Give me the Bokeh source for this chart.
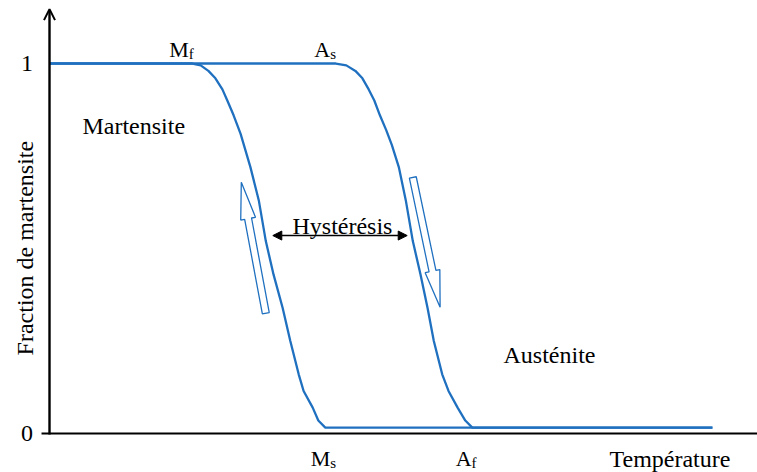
import math
from bokeh.plotting import figure
from bokeh.models import Range1d, Arrow, OpenHead, NormalHead
from bokeh.core.properties import value
from bokeh.embed import file_html
from bokeh.resources import INLINE

# ---------------- data ----------------
# cooling branch: austenite -> martensite (left curve)
T_cool = [0.0, 20.4, 21.6, 22.7, 23.7, 24.7, 25.4, 26.3, 27.3, 28.7, 29.9,
          30.9, 32.0, 33.3, 34.4, 35.6, 36.3, 37.6, 38.4, 39.4, 94.7]
f_cool = [1.0, 1.0, 0.995, 0.98, 0.96, 0.93, 0.90, 0.86, 0.81, 0.72, 0.63,
          0.52, 0.43, 0.34, 0.25, 0.16, 0.115, 0.07, 0.035, 0.016, 0.016]
# heating branch: martensite -> austenite (right curve)
T_heat = [0.0, 40.9, 42.4, 43.7, 44.7, 45.6, 46.4, 47.2, 48.1, 48.9, 49.9,
          50.9, 51.9, 53.0, 54.0, 54.9, 56.1, 57.0, 58.3, 59.4, 60.4, 94.7]
f_heat = [1.0, 1.0, 0.995, 0.98, 0.96, 0.93, 0.90, 0.86, 0.82, 0.78, 0.72,
          0.63, 0.52, 0.43, 0.34, 0.25, 0.16, 0.115, 0.07, 0.035, 0.016, 0.016]

# y ticks
tick_f = [1.0, 0.0]
tick_text = ["1", "0"]

# transformation temperature labels (main letter + subscript)
trans_main = ["M", "A", "M", "A"]
trans_sub = ["f", "s", "s", "f"]
trans_T = [19.9, 40.1, 40.1, 60.3]
trans_f = [1.038, 1.038, -0.068, -0.068]

# hollow direction arrows (tail T, tail f, tip T, tip f)
dir_tail_T = [30.9, 51.9]
dir_tail_f = [0.325, 0.692]
dir_tip_T = [27.4, 55.8]
dir_tip_f = [0.679, 0.341]

# hysteresis width arrow
hyst_T = [31.9, 51.1]
hyst_f = 0.535

# ---------------- figure ----------------
W, H = 757, 472
X0, X1 = -7.0, 101.14
Y0, Y1 = -0.1054, 1.1703
BLUE = "#2070c0"
FONT = value("Liberation Serif")

p = figure(width=W, height=H, x_range=Range1d(X0, X1), y_range=Range1d(Y0, Y1),
           output_backend="svg", toolbar_location=None, min_border=0,
           x_axis_location=None, y_axis_location=None)
p.grid.visible = False
p.outline_line_color = None
p.background_fill_color = "white"
p.border_fill_color = "white"

# axes
p.segment(x0=[-1.14], y0=[0.0], x1=[X1], y1=[0.0], line_color="black", line_width=2.2)
p.add_layout(Arrow(end=OpenHead(size=11, line_width=2, line_color="black"),
                   x_start=0.0, y_start=-0.003, x_end=0.0, y_end=1.147,
                   line_color="black", line_width=2.4))

# curves
p.line(T_cool, f_cool, line_color=BLUE, line_width=2.3)
p.line(T_heat, f_heat, line_color=BLUE, line_width=2.3)

# hollow arrows computed in pixel space
sx = W / (X1 - X0)
sy = H / (Y1 - Y0)
shaft_w, head_w, head_l = 7.0, 15.0, 37.0
xs_all, ys_all = [], []
for t0, g0, t1, g1 in zip(dir_tail_T, dir_tail_f, dir_tip_T, dir_tip_f):
    px0, py0, px1, py1 = t0 * sx, g0 * sy, t1 * sx, g1 * sy
    L = math.hypot(px1 - px0, py1 - py0)
    ux, uy = (px1 - px0) / L, (py1 - py0) / L
    nx, ny = -uy, ux
    bx, by = px0 + ux * (L - head_l), py0 + uy * (L - head_l)
    pts = [
        (px0 + nx * shaft_w / 2, py0 + ny * shaft_w / 2),
        (bx + nx * shaft_w / 2, by + ny * shaft_w / 2),
        (bx + nx * head_w / 2, by + ny * head_w / 2),
        (px1, py1),
        (bx - nx * head_w / 2, by - ny * head_w / 2),
        (bx - nx * shaft_w / 2, by - ny * shaft_w / 2),
        (px0 - nx * shaft_w / 2, py0 - ny * shaft_w / 2),
    ]
    xs_all.append([q[0] / sx for q in pts])
    ys_all.append([q[1] / sy for q in pts])
p.patches(xs_all, ys_all, fill_color="white", line_color=BLUE, line_width=1.3)

# hysteresis arrow
p.add_layout(Arrow(start=NormalHead(size=9, fill_color="black", line_color="black"),
                   end=NormalHead(size=9, fill_color="black", line_color="black"),
                   x_start=hyst_T[0], y_start=hyst_f, x_end=hyst_T[1], y_end=hyst_f,
                   line_color="black", line_width=1.5))

# texts
p.text(x=[-3.2, -3.2], y=tick_f, text=tick_text, text_font=FONT, text_font_size="24px",
       text_align="center", text_baseline="middle", text_color="black")
p.text(x=[-3.57], y=[0.501], text=["Fraction de martensite"], angle=math.pi / 2,
       text_font=FONT, text_font_size="24px", text_align="center",
       text_baseline="middle", text_color="black")
p.text(x=trans_T, y=trans_f, text=trans_main, text_font=FONT, text_font_size="22px",
       text_align="right", text_baseline="alphabetic", text_color="black")
p.text(x=trans_T, y=[v - 0.012 for v in trans_f], text=trans_sub, text_font=FONT,
       text_font_size="15px", text_align="left", text_baseline="alphabetic",
       text_color="black")
p.text(x=[4.71, 64.86, 80.0, 34.71], y=[0.830, 0.211, -0.070, 0.562],
       text=["Martensite", "Austénite", "Température", "Hystérésis"],
       text_font=FONT, text_font_size="24px", text_align="left",
       text_baseline="alphabetic", text_color="black")

open("out.html", "w").write(file_html(p, INLINE))
